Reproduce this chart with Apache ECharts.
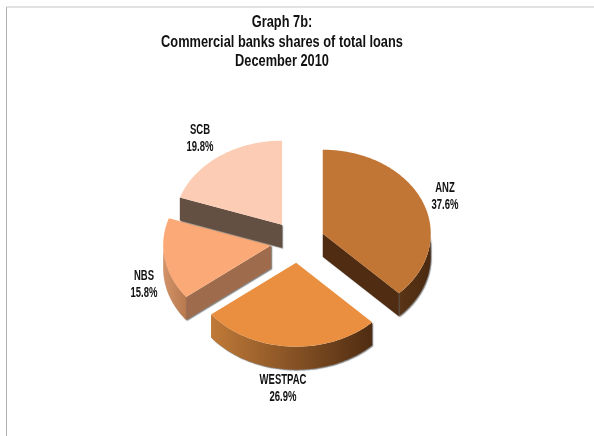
<!DOCTYPE html>
<html>
<head>
<meta charset="utf-8">
<style>html,body{margin:0;padding:0;background:#fff}#chart{width:594px;height:436px}</style>
<script src="https://cdn.jsdelivr.net/npm/echarts@6/dist/echarts.min.js"></script>
</head>
<body>
<div id="chart"></div>
<script>
const titleLines = ['Graph 7b:', 'Commercial banks shares of total loans', 'December 2010'];
const banks = ['ANZ', 'WESTPAC', 'NBS', 'SCB'];
const shares = [37.6, 26.9, 15.8, 19.8];

const topColors = ['#c27636', '#e98f3f', '#fba976', '#fccdb4'];
const cutColors = ['#4f2c12', null, '#9e6c4d', '#645042'];
const rimStops = [
  ['#5a3415', '#4a2a10'],
  ['#c07a38', '#4f2c12'],
  ['#d29369', '#b8794f'],
  [null, null]
];
const labelAnchors = [[445, 197], [283, 389], [144, 285], [200, 138.5]];
const titleBaselines = [23, 42.5, 62];

// Pie geometry: an ellipse tilted toward the viewer, with exploded slices
const CX = 297.8, CY = 241.7, RX = 108, RY = 84, DEPTH = 23, EXPLODE = 0.25;
const total = shares.reduce((a, b) => a + b, 0);
const starts = shares.map((_, i) =>
  shares.slice(0, i).reduce((a, b) => a + b, 0) / total * 360);

const rad = d => d * Math.PI / 180;
const onEllipse = (ax, ay, t, dy) =>
  [ax + RX * Math.sin(rad(t)), ay - RY * Math.cos(rad(t)) + (dy || 0)];

function arcPoints(ax, ay, from, to, dy) {
  const pts = [];
  const n = Math.max(2, Math.ceil(Math.abs(to - from)));
  for (let k = 0; k <= n; k++) pts.push(onEllipse(ax, ay, from + (to - from) * k / n, dy));
  return pts;
}

const edgeShadow = { shadowColor: 'rgba(90,90,90,0.75)', shadowBlur: 1, shadowOffsetX: 1, shadowOffsetY: 1 };
const FONT_FAMILY = '"Liberation Sans", sans-serif';

function renderSlice(params, api) {
  const i = params.dataIndex;
  const share = api.value(0);
  const from = starts[i];
  const to = from + share / total * 360;
  const mid = (from + to) / 2;
  const ax = CX + EXPLODE * RX * Math.sin(rad(mid));
  const ay = CY - EXPLODE * RY * Math.cos(rad(mid));
  const children = [];

  // Outer rim: only the part of the arc on the near half is visible
  const rimFrom = Math.max(from, 90), rimTo = Math.min(to, 270);
  if (rimTo > rimFrom && rimStops[i][0]) {
    const top = arcPoints(ax, ay, rimFrom, rimTo);
    const bottom = arcPoints(ax, ay, rimTo, rimFrom, DEPTH);
    children.push({
      type: 'polygon',
      shape: { points: top.concat(bottom) },
      style: Object.assign({
        fill: new echarts.graphic.LinearGradient(0, 0, 1, 0, [
          { offset: 0, color: rimStops[i][0] },
          { offset: 1, color: rimStops[i][1] }
        ])
      }, edgeShadow)
    });
  }

  // Cut face below the edge that looks toward the viewer
  if (cutColors[i]) {
    const p = onEllipse(ax, ay, i === 0 ? to : from);
    children.push({
      type: 'polygon',
      shape: { points: [[ax, ay], p, [p[0], p[1] + DEPTH], [ax, ay + DEPTH]] },
      style: Object.assign({ fill: cutColors[i] }, edgeShadow)
    });
  }

  // Top face
  children.push({
    type: 'polygon',
    shape: { points: [[ax, ay]].concat(arcPoints(ax, ay, from, to)) },
    style: { fill: topColors[i] }
  });

  // Name and share label, condensed horizontally
  children.push({
    type: 'text',
    x: labelAnchors[i][0],
    y: labelAnchors[i][1],
    scaleX: 0.68,
    style: {
      x: 0,
      y: 0,
      text: banks[i] + '\n' + share.toFixed(1) + '%',
      fill: '#111',
      font: 'bold 14px ' + FONT_FAMILY,
      lineHeight: 17,
      align: 'center',
      verticalAlign: 'middle'
    }
  });

  return { type: 'group', children };
}

const chart = echarts.init(document.getElementById('chart'), null, { renderer: 'canvas' });
chart.setOption({
  animation: false,
  backgroundColor: '#fff',
  graphic: [
    { type: 'line', shape: { x1: 6.5, y1: 7, x2: 594, y2: 7 }, style: { stroke: '#c4c4c4', lineWidth: 1 } },
    { type: 'line', shape: { x1: 6.5, y1: 7, x2: 6.5, y2: 436 }, style: { stroke: '#b0b0b0', lineWidth: 1 } }
  ].concat(titleLines.map((line, k) => ({
    type: 'text',
    x: 282,
    y: titleBaselines[k],
    scaleX: 0.8,
    style: {
      text: line,
      fill: '#111',
      font: 'bold 16px ' + FONT_FAMILY,
      align: 'center',
      verticalAlign: 'middle'
    }
  }))),
  series: [{
    type: 'custom',
    coordinateSystem: 'none',
    renderItem: renderSlice,
    data: shares.map(v => [v])
  }]
});
</script>
</body>
</html>
